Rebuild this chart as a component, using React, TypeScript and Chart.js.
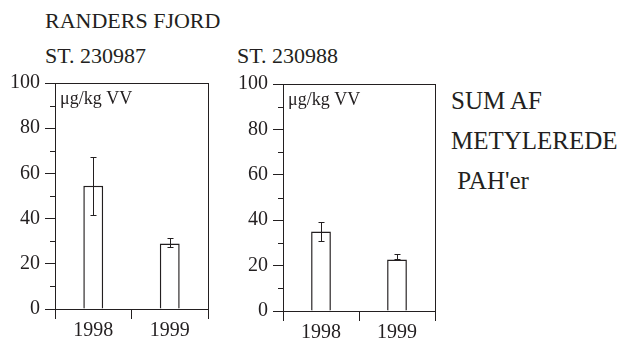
import React, { useEffect, useRef } from "react";
import { Chart, registerables } from "chart.js";

Chart.register(...registerables);

// ---- data ----
const years = ["1998", "1999"];
const st1Values = [54.5, 29.0];
const st1ErrHigh = [67.3, 31.5];
const st1ErrLow = [41.6, 27.3];
const st2Values = [35.0, 22.7];
const st2ErrHigh = [39.0, 25.0];
const st2ErrLow = [30.8, 22.7];
const yMajorStep = 20;
const yMinorTicks = [10, 30, 50, 70, 90];
const unitLabel = "μg/kg VV";
const titleMain = "RANDERS FJORD";
const station1 = "ST. 230987";
const station2 = "ST. 230988";
const sideLines = ["SUM AF", "METYLEREDE", " PAH'er"];

const INK = "#231f20";
const FONT = '"Liberation Serif"';

const decorPlugin = {
  id: "decor",
  afterDatasetsDraw(chart: any) {
    const { ctx, chartArea: a, scales } = chart;
    const x = scales.x;
    const y = scales.y;
    const o = chart.options.plugins.decor;
    ctx.save();
    ctx.strokeStyle = INK;
    ctx.lineWidth = 1;
    ctx.strokeRect(Math.round(a.left) + 0.5, Math.round(a.top) + 0.5, Math.round(a.right - a.left), Math.round(a.bottom - a.top));
    ctx.beginPath();
    yMinorTicks.forEach((v) => {
      const py = Math.round(y.getPixelForValue(v)) + 0.5;
      ctx.moveTo(a.left - 5, py);
      ctx.lineTo(a.left, py);
    });
    ctx.stroke();
    ctx.beginPath();
    o.high.forEach((h: number, i: number) => {
      const px = Math.round(x.getPixelForValue(i)) + 0.5;
      const ph = Math.round(y.getPixelForValue(h)) + 0.5;
      const pl = Math.round(y.getPixelForValue(o.low[i])) + 0.5;
      ctx.moveTo(px, ph);
      ctx.lineTo(px, pl);
      ctx.moveTo(px - 3, ph);
      ctx.lineTo(px + 3, ph);
      ctx.moveTo(px - 3, pl);
      ctx.lineTo(px + 3, pl);
    });
    ctx.stroke();
    ctx.fillStyle = INK;
    ctx.font = `18px ${FONT}`;
    ctx.textBaseline = "alphabetic";
    ctx.textAlign = "left";
    ctx.fillText(unitLabel, a.left + 5, a.top + 21);
    ctx.restore();
  },
};

function makeConfig(values: number[], high: number[], low: number[], pad: any, yWidth: number, xHeight: number): any {
  return {
    type: "bar",
    data: {
      labels: years,
      datasets: [
        {
          data: values,
          backgroundColor: "#ffffff",
          borderColor: INK,
          borderWidth: 1.5,
          barPercentage: 0.26,
          categoryPercentage: 1,
        },
      ],
    },
    options: {
      animation: false,
      responsive: false,
      maintainAspectRatio: false,
      layout: { padding: pad },
      plugins: {
        legend: { display: false },
        tooltip: { enabled: false },
        decor: { high, low },
      },
      scales: {
        x: {
          type: "category",
          grid: { offset: true, drawOnChartArea: false, tickLength: 10, color: INK },
          border: { display: true, color: INK, width: 1 },
          ticks: { font: { family: FONT, size: 20 }, color: INK, padding: 0, maxRotation: 0 },
          afterFit: (s: any) => {
            s.height = xHeight;
          },
        },
        y: {
          min: 0,
          max: 100,
          grid: { drawOnChartArea: false, tickLength: 10, color: INK },
          border: { display: true, color: INK, width: 1 },
          ticks: { stepSize: yMajorStep, font: { family: FONT, size: 20 }, color: INK, padding: 5 },
          afterFit: (s: any) => {
            s.width = yWidth;
          },
        },
      },
    },
    plugins: [decorPlugin],
  };
}

function BarPanel(props: { values: number[]; high: number[]; low: number[]; left: number; pad: any; yWidth: number; xHeight: number }) {
  const ref = useRef<HTMLCanvasElement>(null);
  useEffect(() => {
    const chart = new Chart(ref.current as HTMLCanvasElement, makeConfig(props.values, props.high, props.low, props.pad, props.yWidth, props.xHeight));
    return () => chart.destroy();
  }, []);
  return (
    <canvas
      ref={ref}
      width={230}
      height={279}
      style={{ position: "absolute", left: props.left, top: 60, width: 230, height: 279 }}
    />
  );
}

function Label(props: { left: number; top: number; size: number; text: string }) {
  return (
    <div
      style={{
        position: "absolute",
        left: props.left,
        top: props.top,
        fontFamily: FONT,
        fontSize: props.size,
        lineHeight: `${props.size}px`,
        color: INK,
        whiteSpace: "pre",
      }}
    >
      {props.text}
    </div>
  );
}

export default function App() {
  return (
    <div style={{ position: "absolute", left: 0, top: 0, width: 629, height: 339, background: "#fff" }}>
      <Label left={45} top={10} size={22} text={titleMain} />
      <Label left={45} top={45} size={22} text={station1} />
      <Label left={237} top={45} size={22} text={station2} />
      <Label left={451} top={88} size={25} text={sideLines[0]} />
      <Label left={451} top={128} size={25} text={sideLines[1]} />
      <Label left={451} top={168} size={25} text={sideLines[2]} />
      <BarPanel values={st1Values} high={st1ErrHigh} low={st1ErrLow} left={0} pad={{ top: 23, right: 22, left: 0, bottom: 0 }} yWidth={55} xHeight={30} />
      <BarPanel values={st2Values} high={st2ErrHigh} low={st2ErrLow} left={230} pad={{ top: 24, right: 25, left: 0, bottom: 0 }} yWidth={53} xHeight={28} />
    </div>
  );
}
